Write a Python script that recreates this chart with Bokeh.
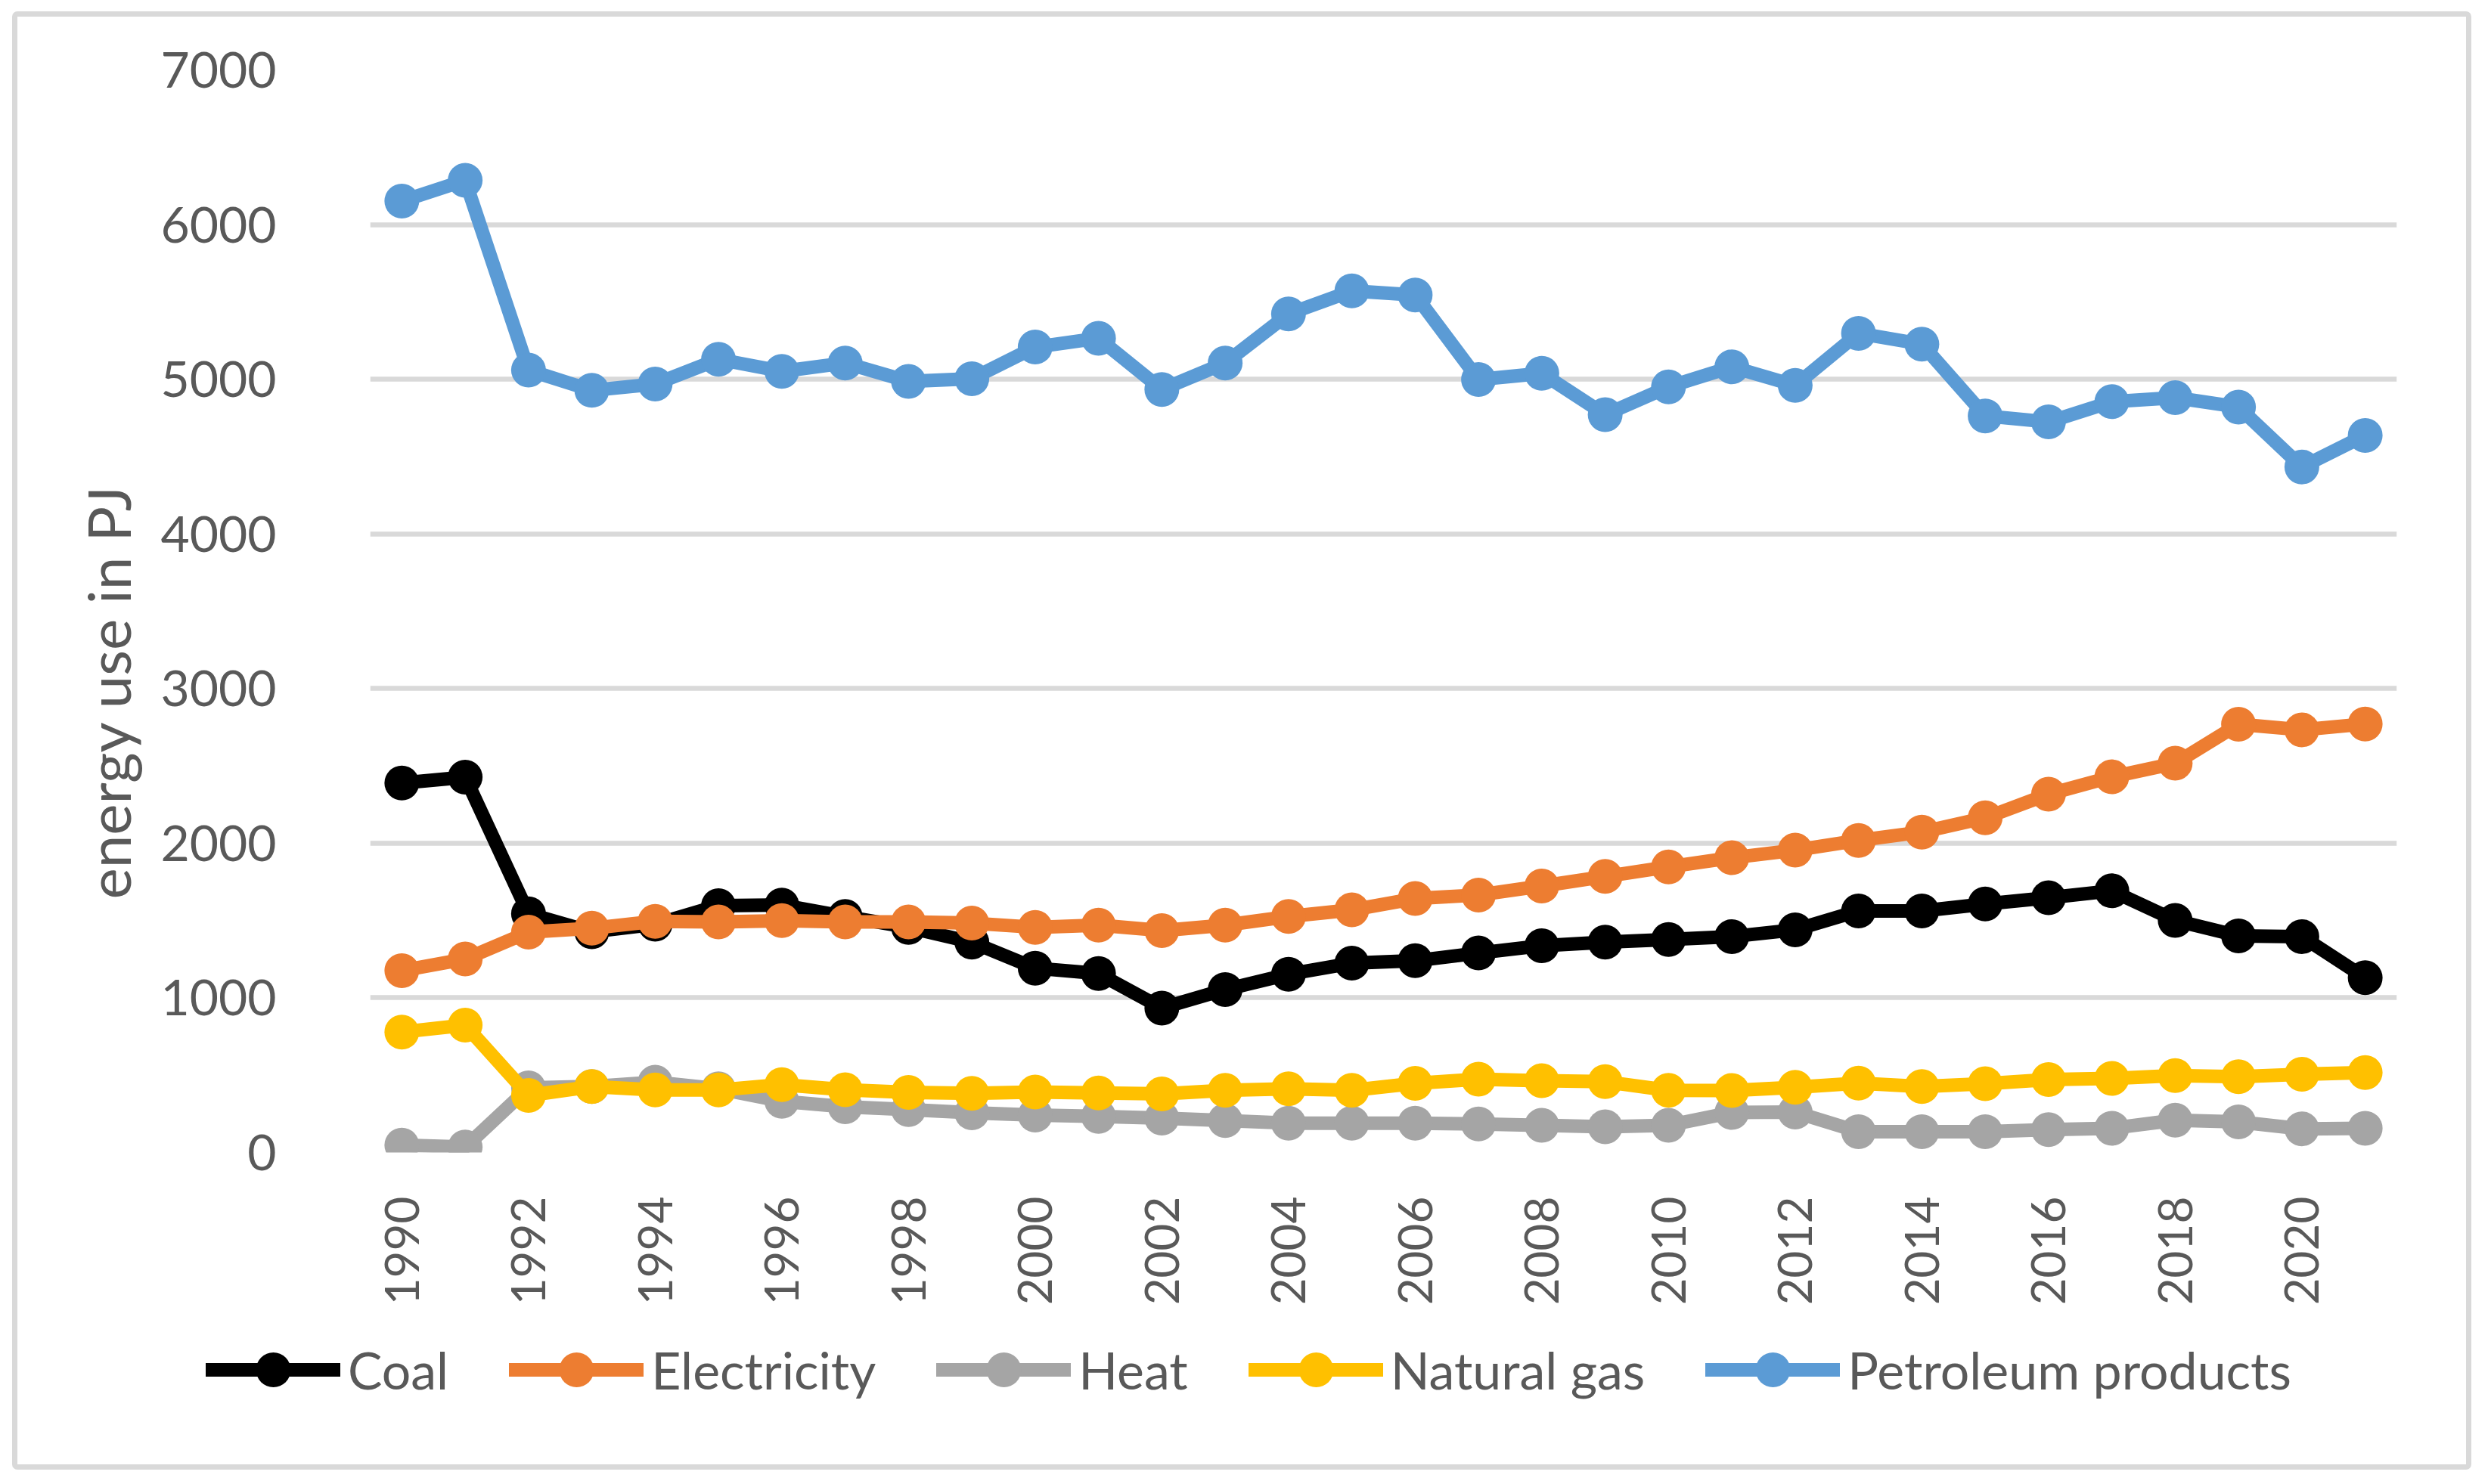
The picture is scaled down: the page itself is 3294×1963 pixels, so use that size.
import math
from bokeh.plotting import figure
from bokeh.layouts import column
from bokeh.models import Range1d, FixedTicker, Legend, LegendItem, Title
from bokeh.embed import file_html
from bokeh.resources import INLINE

years = list(range(1990, 2022))

coal = [2389, 2427, 1544, 1427, 1476, 1596, 1600, 1526, 1456, 1360,
        1192, 1157, 934, 1054, 1153, 1224, 1240, 1290, 1337, 1360,
        1377, 1396, 1440, 1562, 1562, 1607, 1647, 1692, 1501, 1400,
        1396, 1130]
electricity = [1176, 1251, 1425, 1450, 1495, 1491, 1499, 1491, 1491, 1483,
               1456, 1470, 1435, 1470, 1526, 1569, 1642, 1665, 1723, 1785,
               1847, 1906, 1955, 2018, 2072, 2164, 2317, 2429, 2517, 2769,
               2733, 2771]
heat = [48, 35, 418, 427, 455, 412, 331, 296, 277, 257,
        242, 234, 222, 207, 190, 190, 190, 184, 176, 166,
        176, 259, 261, 135, 135, 135, 148, 157, 209, 198,
        153, 157]
natural_gas = [779, 824, 369, 427, 404, 404, 439, 406, 389, 383,
               391, 385, 379, 402, 412, 402, 447, 474, 464, 458,
               402, 401, 422, 449, 427, 445, 472, 479, 497, 490,
               506, 517]
petroleum = [6152, 6286, 5059, 4928, 4969, 5129, 5051, 5105, 4986, 5003,
             5208, 5265, 4934, 5105, 5422, 5571, 5545, 4998, 5038, 4771,
             4951, 5080, 4960, 5297, 5227, 4763, 4724, 4855, 4881, 4820,
             4433, 4637]

series_names = ["Coal", "Electricity", "Heat", "Natural gas", "Petroleum products"]
series_values = [coal, electricity, heat, natural_gas, petroleum]
series_colors = ["#000000", "#ED7D31", "#A5A5A5", "#FFC000", "#5B9BD5"]

y_ticks = [0, 1000, 2000, 3000, 4000, 5000, 6000, 7000]
x_ticks = list(range(1990, 2021, 2))

FONT = "Lato"
TXT = "#595959"
W = 3238
H_MAIN = 1740
H_LEG = 175

p = figure(width=W, height=H_MAIN, output_backend="svg", toolbar_location=None,
           x_range=Range1d(1989.5, 2021.5), y_range=Range1d(0, 7000),
           min_border_left=466, min_border_right=92, min_border_top=70,
           min_border_bottom=H_MAIN - 70 - 1432, frame_align=False)

p.outline_line_color = None
p.background_fill_color = "white"
p.border_fill_color = "white"

p.xgrid.grid_line_color = None
p.ygrid.grid_line_color = "#D9D9D9"
p.ygrid.grid_line_width = 6.5
p.ygrid.ticker = FixedTicker(ticks=y_ticks)

p.yaxis.ticker = FixedTicker(ticks=y_ticks)
p.yaxis.axis_line_color = None
p.yaxis.major_tick_line_color = None
p.yaxis.minor_tick_line_color = None
p.yaxis.major_label_text_font = FONT
p.yaxis.major_label_text_font_size = "66px"
p.yaxis.major_label_text_color = TXT
p.yaxis.major_label_standoff = 118

ytitle = Title(text="energy use in PJ", align="left", offset=335, standoff=40,
               text_font=FONT, text_font_size="78px", text_font_style="normal",
               text_color=TXT)
p.add_layout(ytitle, "left")

p.xaxis.ticker = FixedTicker(ticks=x_ticks)
p.xaxis.axis_line_color = None
p.xaxis.major_tick_line_color = None
p.xaxis.minor_tick_line_color = None
p.xaxis.major_label_orientation = math.pi / 2
p.xaxis.major_label_text_font = FONT
p.xaxis.major_label_text_font_size = "62px"
p.xaxis.major_label_text_color = TXT
p.xaxis.major_label_standoff = 52

for name, vals, col in zip(series_names, series_values, series_colors):
    p.line(years, vals, line_color=col, line_width=18, line_join="round")
    p.scatter(years, vals, marker="circle", size=46, fill_color=col, line_color=None)

# legend strip: same series drawn out of view, only their legend is shown
lf = figure(width=W, height=H_LEG, output_backend="svg", toolbar_location=None,
            x_axis_type=None, y_axis_type=None, min_border=0, frame_align=False,
            x_range=Range1d(0, 1), y_range=Range1d(0, 1))
lf.outline_line_color = None
lf.xgrid.grid_line_color = None
lf.ygrid.grid_line_color = None
lf.background_fill_color = "white"
lf.border_fill_color = "white"

items = []
for name, vals, col in zip(series_names, series_values, series_colors):
    ln = lf.line(years, vals, line_color=col, line_width=18, line_cap="round")
    sc = lf.scatter(years, vals, marker="circle", size=46, fill_color=col, line_color=None)
    items.append(LegendItem(label=name, renderers=[ln, sc]))

legend = Legend(items=items, orientation="horizontal", location=(249, 68),
                glyph_width=178, glyph_height=115, label_standoff=10, spacing=80,
                padding=0, margin=0, border_line_alpha=0, background_fill_alpha=0,
                label_text_font=FONT, label_text_font_size="68px",
                label_text_color=TXT)
lf.add_layout(legend, "center")

layout = column(p, lf, spacing=0)
layout.styles = {"border": "7px solid #D9D9D9", "border-radius": "7px"}
layout.margin = (15, 0, 0, 16)

open("out.html", "w").write(file_html(layout, INLINE))
